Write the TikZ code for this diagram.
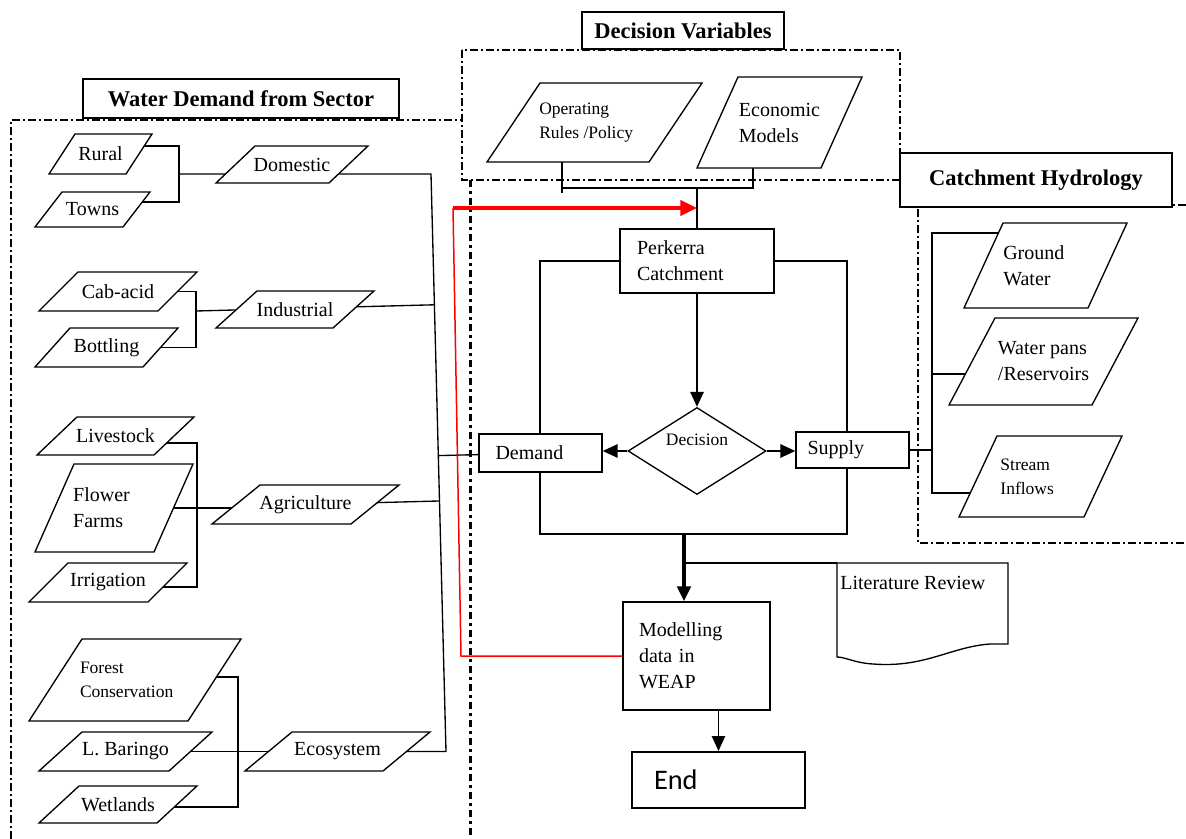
\documentclass[tikz,border=0pt]{standalone}
\usepackage{fontspec}
\setmainfont{Liberation Serif}
\newfontfamily\calfont{Carlito}
\usetikzlibrary{arrows.meta,shapes.geometric,calc}
\pgfdeclarelayer{bg}
\pgfsetlayers{bg,main}

\tikzset{
  pgram/.style={draw,fill=white,line width=0.8pt,line join=miter},
  ptext/.style={inner sep=0pt,align=left,font=\fontsize{12}{15.6}\selectfont},
  smalltext/.style={font=\fontsize{10.5}{14.4}\selectfont},
  sbox/.style={draw,fill=white,line width=0.8pt,inner sep=0pt,align=left,font=\fontsize{12}{15.6}\selectfont},
  titlebox/.style={draw,fill=white,line width=0.8pt,inner sep=0pt,font=\bfseries\fontsize{13.5}{16}\selectfont},
  groupline/.style={line width=1pt,dash pattern=on 4.8pt off 1.8pt on 1.2pt off 1.8pt},
  heavydash/.style={line width=1.8pt,dash pattern=on 4.5pt off 2.4pt on 1.5pt off 2.4pt},
  conn/.style={line width=0.8pt},
  flowarrow/.style={line width=1.2pt,-{Triangle[length=9pt,width=8pt]}},
}

% slanted input box: [text style]{name}{cx}{cy}{half width}{half height}{half slant}{text}
\newcommand{\pgram}[8][]{%
  \draw[pgram] (#3-#5-#7,#4+#6) -- (#3-#5+#7,#4-#6) -- (#3+#5+#7,#4-#6) -- (#3+#5-#7,#4+#6) -- cycle;
  \node[ptext,#1] (#2) at (#3,#4) {#8};}

\begin{document}
\begin{tikzpicture}[x=0.6pt,y=-0.6pt]
\useasboundingbox (0,0) rectangle (1186,839);

% titles of the three groups
\node[titlebox,minimum width=189.6pt,minimum height=23.4pt] (wdtitle) at (241,98.5) {Water Demand from Sector};
\node[titlebox,minimum width=121.2pt,minimum height=22.2pt] (dvtitle) at (683,30.5) {Decision Variables};
\node[titlebox,minimum width=163.2pt,minimum height=32.4pt] (chtitle) at (1036,180) {Catchment Hydrology};

% water demand from sector
\pgram{rural}{100.5}{154}{38.5}{20}{13}{Rural}
\pgram{towns}{92.5}{209.5}{44}{17.5}{13.5}{Towns}
\pgram{domestic}{292}{164.5}{56.5}{18.5}{19.5}{Domestic}
\pgram{cabacid}{118}{291.5}{59.5}{19.5}{19.5}{Cab-acid}
\pgram{bottling}{106.5}{347.5}{54}{19.5}{17.5}{Bottling}
\pgram{industrial}{295}{309.5}{58.5}{18.5}{20.5}{Industrial}
\pgram{livestock}{115.5}{436}{58.5}{19}{20}{Livestock}
\pgram[xshift=-7.5pt]{flower}{114}{508}{59.5}{44}{19.5}{Flower\\Farms}
\pgram{irrigation}{108}{582.5}{59.5}{19.5}{19.5}{Irrigation}
\pgram{agriculture}{305.5}{504.5}{69.5}{19.5}{24}{Agriculture}
\pgram[smalltext,xshift=-5pt]{forest}{135}{680}{79.5}{41}{26.5}{Forest\\Conservation}
\pgram{baringo}{125.5}{751.5}{65}{19.5}{21.5}{L. Baringo}
\pgram{wetlands}{118}{804.5}{59}{18.5}{20}{Wetlands}
\pgram{ecosystem}{337.5}{751.5}{69}{19.5}{23.5}{Ecosystem}

% decision variables
\pgram[smalltext,xshift=-5pt]{oper}{594.5}{122.5}{81}{39.5}{26.5}{Operating\\Rules /Policy}
\pgram{econ}{779.5}{122.5}{62}{45.5}{20.5}{Economic\\Models}

% catchment hydrology
\pgram[xshift=-7pt]{groundw}{1045.5}{265.5}{62}{42.5}{19.5}{Ground\\Water}
\pgram{wpans}{1043.5}{361.5}{71.5}{43.5}{23}{Water pans\\/Reservoirs}
\pgram[smalltext,xshift=-8pt]{stream}{1040.5}{476.5}{62.5}{40.5}{19}{Stream\\Inflows}

% main flow
\node[sbox,text width=72pt,inner xsep=10.2pt,minimum height=38.4pt] (perk) at (697,261) {Perkerra\\Catchment};
\node[diamond,draw,fill=white,line width=0.8pt,minimum width=82.8pt,minimum height=52.2pt,inner sep=0pt,
  label={[ptext,smalltext,yshift=7pt]center:Decision}] (dec) at (697,451) {};
\node[sbox,text width=54pt,inner xsep=9.9pt,minimum height=22.8pt] (demand) at (540.5,453) {Demand};
\node[sbox,text width=54pt,inner xsep=6.9pt,minimum height=21.6pt] (supply) at (852.5,450) {Supply};
\node[sbox,text width=69pt,inner xsep=9.6pt,minimum height=64.8pt] (model) at (696.5,656) {Modelling\\data in\\WEAP};
\node[sbox,line width=1.2pt,text width=77.4pt,inner xsep=13.2pt,minimum height=33.6pt,
  font=\calfont\fontsize{17}{20}\selectfont] (endbox) at (718.5,780) {End};

% literature review (document shape)
\coordinate (litc) at (837,563);
\draw[pgram] (litc) -- (1008,563) -- (1008,644) -- (990,644) .. controls (950,647) and (925,668) .. (873,664)
  .. controls (855,663) and (845,657) .. (837,657) -- cycle;
\node[ptext,anchor=west] (litrev) at (840,583) {Literature Review};

\begin{pgfonlayer}{bg}
% group frames
\draw[groupline] (11,839) -- (11,120) -- (462,120);
\draw[groupline] (462,50) rectangle (900,180);
\draw[groupline] (1186,205) -- (918,205) -- (918,543) -- (1186,543);
\draw[heavydash] (470,180) -- (470,839);

% sectors to the demand bus
\coordinate (bt) at (431,174);
\coordinate (bb) at (446,751.5);
\coordinate (b1) at (179,174);
\coordinate (b2) at (196,311);
\coordinate (b3) at (197,508);
\coordinate (b4) at (238,751.5);
\draw[conn] ([yshift=4.8pt]rural.center) -| (b1) |- ([yshift=4.5pt]towns.center);
\draw[conn] (b1) -- (bt) -- (bb) -- (ecosystem.center);
\draw[conn] (cabacid.center) -| (b2) |- (bottling.center);
\draw[conn] (b2) -- ($(bt)!(b2)!(bb)$);
\draw[conn] ([yshift=-4.2pt]livestock.center) -| (b3) |- ([yshift=-2.7pt]irrigation.center);
\draw[conn] (flower.center) -- (flower.center -| agriculture.center);
\draw[conn] (agriculture.center) -- ($(bt)!(agriculture.center)!(bb)$);
\draw[conn] ([yshift=1.8pt]forest.center) -| (b4) |- ([yshift=-1.5pt]wetlands.center);
\draw[conn] (baringo.center) -- (ecosystem.center);
\draw[conn] (demand.center) -- ($(bt)!(demand.center)!(bb)$);

% decision variables to the catchment
\coordinate (dvl) at (562,193);
\coordinate (dvr) at (753,188);
\draw[conn] (oper.center -| dvl) -- (dvl);
\draw[conn] (dvl |- dvr) -- (dvr) -- (econ.center -| dvr);
\draw[conn] (perk.north |- dvr) -- (perk.north);

% feedback from the model
\coordinate (rbot) at (461,656);
\coordinate (rtop) at (453,208);
\draw[red,line width=0.9pt] (model.center) -- (rbot) -- (rtop);
\draw[red,line width=2.4pt,-{Triangle[length=10pt,width=9pt]}] (rtop) -- (rtop -| perk.north);

% decision loop
\coordinate (lpl) at (540,534);
\coordinate (lpr) at (847,534);
\draw[conn] (perk.west) -| (lpl) -- (lpr) |- (perk.east);
\draw[flowarrow] (perk.south) -- (dec.north);
\draw[flowarrow] (dec.west) -- (dec.west -| demand.east);
\draw[flowarrow] (dec.east) -- (dec.east -| supply.west);
\coordinate (tk) at (684,534);
\coordinate (tk2) at (684,563);
\draw[line width=2.2pt,-{Triangle[length=9pt,width=8pt]}] (tk) -- (tk |- model.north);
\draw[conn] (tk2) -- (litc);
\draw[flowarrow,line width=1pt] (endbox.north |- model.south) -- (endbox.north);

% supply bus
\coordinate (rb1) at (932,233);
\coordinate (rb2) at (932,493);
\coordinate (rb3) at (932,374);
\draw[conn] (supply.center) -- (supply.center -| rb1);
\draw[conn] (rb1 -| groundw.center) -- (rb1) -- (rb2) -- (rb2 -| stream.center);
\draw[conn] (rb3) -- (rb3 -| wpans.center);
\end{pgfonlayer}
\end{tikzpicture}
\end{document}
